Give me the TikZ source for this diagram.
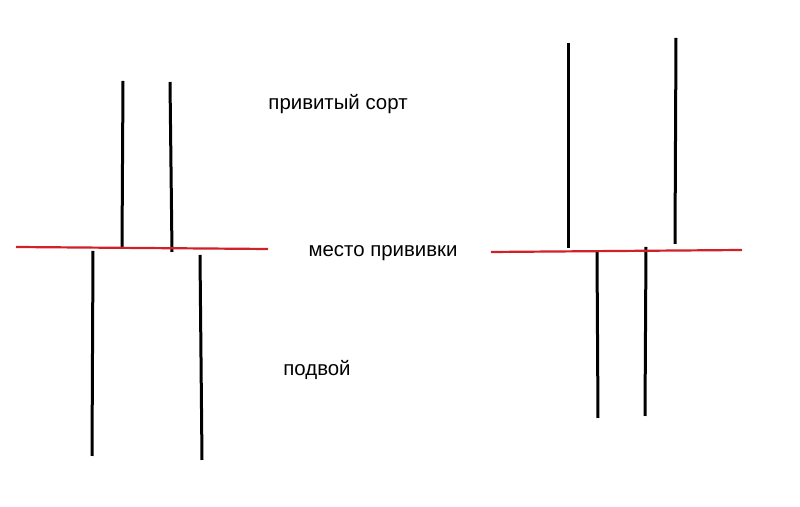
\documentclass[tikz,border=0pt]{standalone}
\usepackage{fontspec}
\setmainfont{Liberation Sans}
\definecolor{graftred}{RGB}{208,32,40}

\begin{document}
\begin{tikzpicture}[x=0.5pt,y=-0.5pt,line cap=butt]
\tikzstyle{every node}=[inner sep=0pt,font=\fontsize{10.2}{12}\selectfont]
\tikzstyle{stem}=[black,line width=1.5pt]
\tikzstyle{cut}=[graftred,line width=1.1pt]
\useasboundingbox (0,0) rectangle (800,507);

% left graft
\coordinate (l1) at (16,247);
\coordinate (l2) at (268,249);
\coordinate (lt1) at (123,81);
\coordinate (lb1) at (122,247);
\coordinate (lt2) at (170,82);
\coordinate (lb2) at (172,252);
\coordinate (ls1) at (93,251);
\coordinate (le1) at (92,456);
\coordinate (ls2) at (200,255);
\coordinate (le2) at (202,460);

% right graft
\coordinate (r1) at (491,252);
\coordinate (r2) at (742,250);
\coordinate (rt1) at (568,43);
\coordinate (rb1) at (568,248);
\coordinate (rt2) at (676,38);
\coordinate (rb2) at (675,244);
\coordinate (rs1) at (597,251);
\coordinate (re1) at (598,418);
\coordinate (rs2) at (646,247);
\coordinate (re2) at (645,416);

\node (scion) at (338,104) {привитый сорт};
\node (union) at (383,253) {место прививки};
\node (stock) at (317,370) {подвой};

\draw[stem] (lt1) -- (lb1);
\draw[stem] (lt2) -- (lb2);
\draw[stem] (ls1) -- (le1);
\draw[stem] (ls2) -- (le2);
\draw[stem] (rt1) -- (rb1);
\draw[stem] (rt2) -- (rb2);
\draw[stem] (rs1) -- (re1);
\draw[stem] (rs2) -- (re2);
\draw[cut] (l1) -- (l2);
\draw[cut] (r1) -- (r2);
\end{tikzpicture}
\end{document}
